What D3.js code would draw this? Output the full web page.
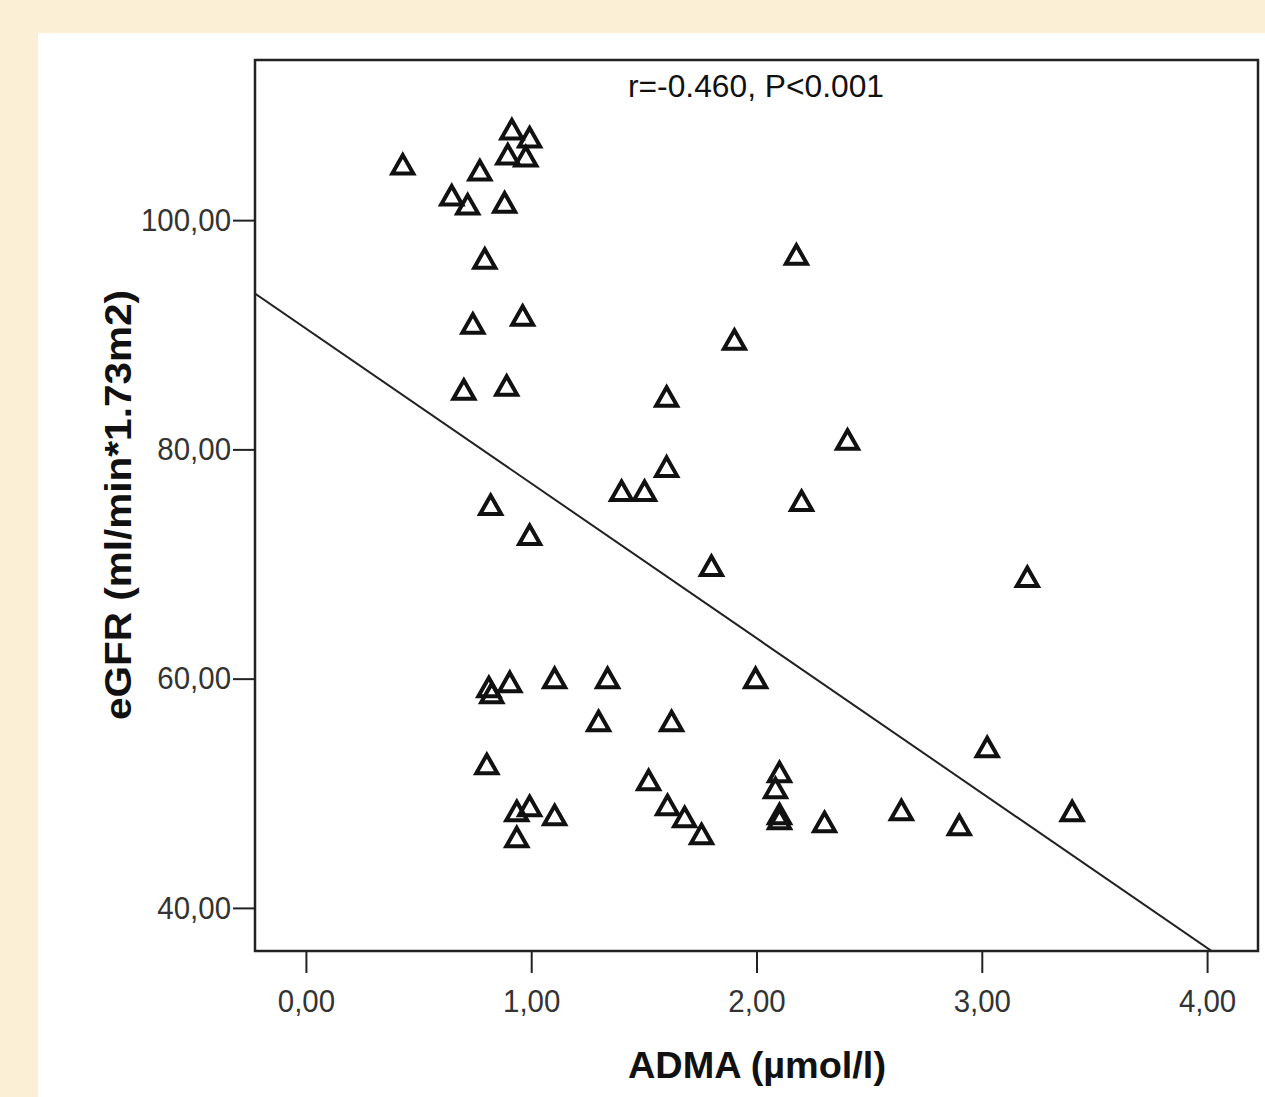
<!DOCTYPE html>
<html>
<head>
<meta charset="utf-8">
<script src="https://cdn.jsdelivr.net/npm/d3@7"></script>
<style>
  html, body { margin: 0; padding: 0; background: #fbefd6; }
  svg { display: block; }
</style>
</head>
<body>
<svg id="chart" width="1265" height="1097"></svg>
<script>
// ---- data ----
const adma = [0.430, 0.647, 0.718, 0.772, 0.882, 0.914, 0.896, 0.993, 0.976, 0.794,
  0.741, 0.962, 0.701, 0.891, 0.820, 0.993, 1.601, 1.601, 1.401, 1.503,
  1.902, 2.177, 2.404, 2.200, 1.800, 3.202, 0.812, 0.825, 0.905, 1.104,
  1.339, 1.299, 1.623, 1.996, 0.803, 1.521, 1.605, 1.681, 1.756, 0.936,
  0.993, 1.104, 0.936, 2.102, 2.084, 2.102, 2.102, 2.302, 2.643, 2.900,
  3.024, 3.401];
const egfr = [104.80, 102.10, 101.31, 104.28, 101.48, 107.86, 105.68, 107.16, 105.50, 96.59,
  90.92, 91.62, 85.15, 85.50, 75.11, 72.49, 84.54, 78.43, 76.33, 76.33,
  89.52, 96.94, 80.79, 75.46, 69.78, 68.82, 59.21, 58.69, 59.65, 60.00,
  60.00, 56.24, 56.24, 60.00, 52.49, 51.09, 48.91, 47.86, 46.38, 48.38,
  48.82, 48.03, 46.11, 51.79, 50.39, 48.12, 47.69, 47.42, 48.47, 47.16,
  53.97, 48.38];
const xTicks = [0, 1, 2, 3, 4];
const yTicks = [40, 60, 80, 100];
const fitIntercept = 90.55;
const fitSlope = -13.51;
const xDomain = [-0.226, 4.226];
const yDomain = [36.24, 113.97];
const annotation = "r=-0.460, P<0.001";
const xTitle = "ADMA (µmol/l)";
const yTitle = "eGFR (ml/min*1.73m2)";

// ---- layout ----
const L = 255, R = 1258, T = 60, B = 951;
const svg = d3.select("#chart");

svg.append("rect").attr("x", 0).attr("y", 0).attr("width", 1265).attr("height", 1097).attr("fill", "#fbefd6");
svg.append("rect").attr("x", 38).attr("y", 33).attr("width", 1265 - 38).attr("height", 1097 - 33).attr("fill", "#ffffff");

const x = d3.scaleLinear().domain(xDomain).range([L, R]);
const y = d3.scaleLinear().domain(yDomain).range([B, T]);
const fmt = d => d.toFixed(2).replace(".", ",");

svg.append("defs").append("clipPath").attr("id", "plotClip")
  .append("rect").attr("x", L).attr("y", T).attr("width", R - L).attr("height", B - T);

// regression line
const fitData = xDomain.map(v => ({ x: v, y: fitIntercept + fitSlope * v }));
svg.append("path")
  .datum(fitData)
  .attr("clip-path", "url(#plotClip)")
  .attr("fill", "none")
  .attr("stroke", "#222")
  .attr("stroke-width", 2)
  .attr("d", d3.line().x(d => x(d.x)).y(d => y(d.y)));

// triangles
const tri = "M0,-10L10.5,8.5L-10.5,8.5Z";
svg.append("g").selectAll("path")
  .data(adma.map((a, i) => ({ a, e: egfr[i] })))
  .join("path")
  .attr("transform", d => `translate(${x(d.a)},${y(d.e)})`)
  .attr("d", tri)
  .attr("fill", "none")
  .attr("stroke", "#111")
  .attr("stroke-width", 4)
  .attr("stroke-linejoin", "miter");

// axes
const gx = svg.append("g").attr("transform", `translate(0,${B})`)
  .call(d3.axisBottom(x).tickValues(xTicks).tickSize(22).tickPadding(16).tickFormat(fmt));
const gy = svg.append("g").attr("transform", `translate(${L},0)`)
  .call(d3.axisLeft(y).tickValues(yTicks).tickSize(22).tickPadding(2).tickFormat(fmt));
[gx, gy].forEach(g => {
  g.select(".domain").remove();
  g.selectAll(".tick line").attr("stroke", "#222").attr("stroke-width", 2);
  g.selectAll(".tick text")
    .attr("fill", "#333")
    .style("font-family", "'Liberation Sans', Arial, sans-serif")
    .style("font-size", "32px")
    .each(function () {
      const w = this.getComputedTextLength();
      d3.select(this).attr("textLength", w * 0.92).attr("lengthAdjust", "spacingAndGlyphs");
    });
});

// frame
svg.append("rect")
  .attr("x", L).attr("y", T).attr("width", R - L).attr("height", B - T)
  .attr("fill", "none").attr("stroke", "#222").attr("stroke-width", 2.5);

// annotation
svg.append("text")
  .attr("x", 756).attr("y", 97)
  .attr("text-anchor", "middle")
  .attr("textLength", 256).attr("lengthAdjust", "spacingAndGlyphs")
  .style("font-family", "'Liberation Sans', Arial, sans-serif")
  .style("font-size", "32px")
  .attr("fill", "#111")
  .text(annotation);

// axis titles
svg.append("text")
  .attr("x", 757).attr("y", 1078)
  .attr("text-anchor", "middle")
  .attr("textLength", 258).attr("lengthAdjust", "spacingAndGlyphs")
  .style("font-family", "'Liberation Sans', Arial, sans-serif")
  .style("font-size", "37px").style("font-weight", "bold")
  .attr("fill", "#111")
  .text(xTitle);

svg.append("text")
  .attr("transform", "translate(131,505) rotate(-90)")
  .attr("text-anchor", "middle")
  .attr("textLength", 430).attr("lengthAdjust", "spacingAndGlyphs")
  .style("font-family", "'Liberation Sans', Arial, sans-serif")
  .style("font-size", "37px").style("font-weight", "bold")
  .attr("fill", "#111")
  .text(yTitle);
</script>
</body>
</html>
